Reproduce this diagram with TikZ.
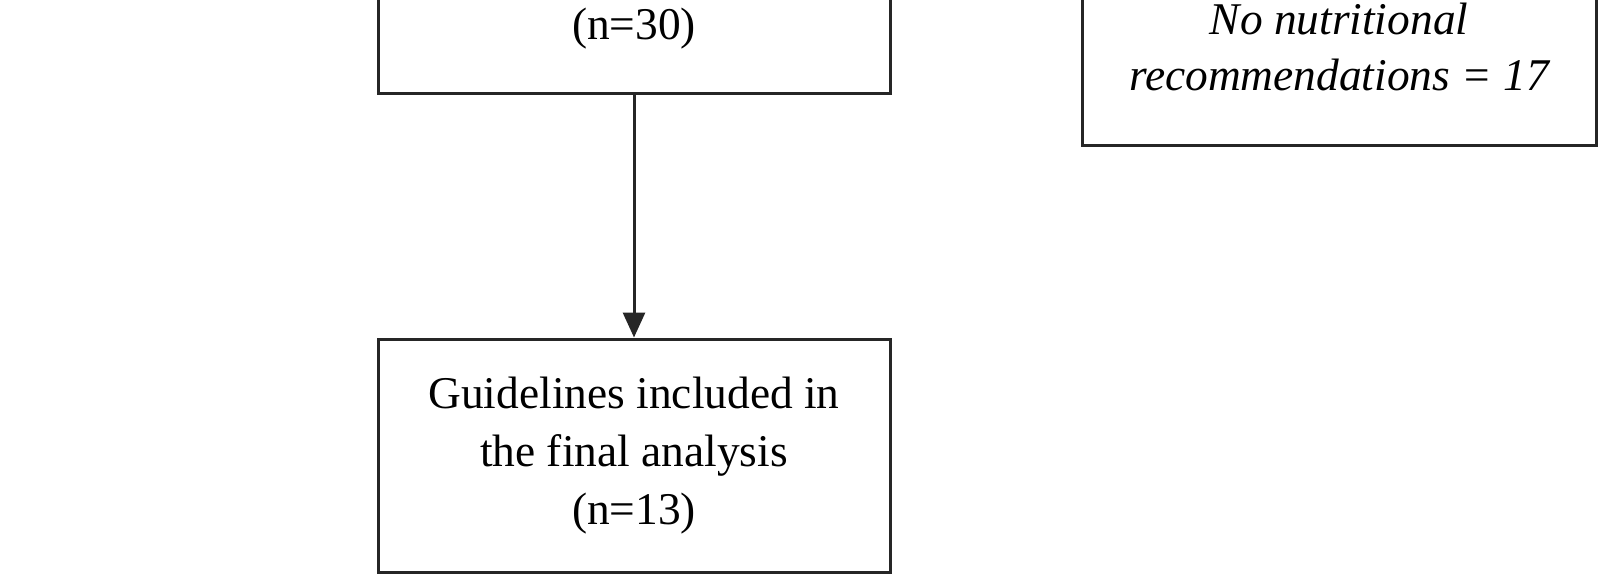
\documentclass[tikz,border=0pt]{standalone}
\usepackage{fontspec}
\setmainfont{Liberation Serif}
\usetikzlibrary{arrows.meta}
\begin{document}
\begin{tikzpicture}[x=0.5pt,y=-0.5pt,
  boxstyle/.style={draw=black!85,line width=1.5pt,rectangle,inner sep=0pt},
  txt/.style={align=center,inner sep=0pt,font=\fontsize{22.7}{29}\selectfont},
  itxt/.style={align=center,inner sep=0pt,font=\fontsize{22.7}{27.8}\selectfont\itshape},
  arr/.style={draw=black!85,line width=1.5pt,-{Triangle[length=12.5pt,width=11pt]}}]
\useasboundingbox (0,0) rectangle (1607,575);
\clip (0,0) rectangle (1607,575);
% left (upper) box, top cut off
\node[boxstyle,minimum width=256pt,minimum height=150pt,anchor=south] (topbox) at (634,95) {};
\node[txt] (n30) at (634,29) {(n=30)};
% right box, top cut off
\node[boxstyle,minimum width=257pt,minimum height=150pt,anchor=south] (rbox) at (1339,147) {};
\node[itxt] (excl) at (1339,47) {No nutritional\\recommendations = 17};
% lower box
\node[boxstyle,txt,minimum width=256pt,minimum height=116.5pt] (final) at (634,455.5)
  {Guidelines included in\\the final analysis\\(n=13)};
\draw[arr] (topbox.south) -- (final.north);
\end{tikzpicture}
\end{document}
